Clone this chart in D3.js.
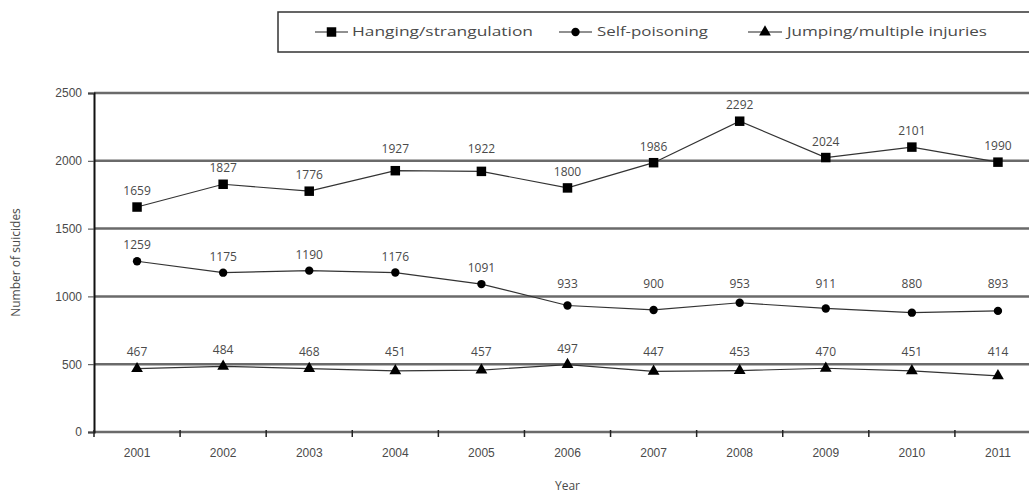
<!DOCTYPE html>
<html>
<head>
<meta charset="utf-8">
<script src="https://cdn.jsdelivr.net/npm/d3@7"></script>
<style>
  body { margin: 0; background: #fff; }
  svg { display: block; font-family: "Open Sans", "DejaVu Sans", sans-serif; }
  .lbl { fill: #4a4a4a; font-size: 12px; }
</style>
</head>
<body>
<svg id="chart" width="1029" height="495"></svg>
<script>
const years = ["2001", "2002", "2003", "2004", "2005", "2006", "2007", "2008", "2009", "2010", "2011"];
const hanging = [1659, 1827, 1776, 1927, 1922, 1800, 1986, 2292, 2024, 2101, 1990];
const poisoning = [1259, 1175, 1190, 1176, 1091, 933, 900, 953, 911, 880, 893];
const jumping = [467, 484, 468, 451, 457, 497, 447, 453, 470, 451, 414];
const seriesNames = ["Hanging/strangulation", "Self-poisoning", "Jumping/multiple injuries"];
const yTicks = [0, 500, 1000, 1500, 2000, 2500];

const svg = d3.select("#chart");
const plotLeft = 94, plotRight = 1041, plotTop = 93, plotBottom = 432;

const x = d3.scaleBand().domain(years).range([plotLeft, plotRight]);
const y = d3.scaleLinear().domain([0, 2500]).range([plotBottom, plotTop]);

// gridlines
svg.append("g").selectAll("line")
    .data(yTicks)
    .enter().append("line")
    .attr("x1", plotLeft).attr("x2", 1029)
    .attr("y1", d => y(d)).attr("y2", d => y(d))
    .attr("stroke", "#6a6a6a")
    .attr("stroke-width", 2.5);

// y axis
const yAxis = svg.append("g")
    .attr("transform", `translate(${plotLeft},0)`)
    .call(d3.axisLeft(y).tickValues(yTicks).tickSize(6).tickPadding(6).tickFormat(d3.format("d")));
yAxis.select(".domain").attr("stroke", "#111").attr("stroke-width", 2);
yAxis.selectAll(".tick line").attr("stroke", "#444");
yAxis.selectAll("text").attr("class", "lbl").attr("font-size", 11).attr("fill", "#555");

// x axis: labels at band centers, ticks at band edges
const xAxis = svg.append("g")
    .attr("transform", `translate(0,${plotBottom})`)
    .call(d3.axisBottom(x).tickSize(0).tickPadding(16));
xAxis.select(".domain").remove();
xAxis.selectAll("text").attr("class", "lbl").attr("font-size", 11).attr("fill", "#555");

svg.append("g").selectAll("line")
    .data(years)
    .enter().append("line")
    .attr("x1", d => x(d)).attr("x2", d => x(d))
    .attr("y1", plotBottom - 2).attr("y2", plotBottom + 5)
    .attr("stroke", "#222")
    .attr("stroke-width", 1.5);

// axis titles
svg.append("text")
    .attr("class", "lbl")
    .attr("transform", `translate(20,${(plotTop + plotBottom) / 2}) rotate(-90)`)
    .attr("text-anchor", "middle")
    .attr("font-size", 11.5)
    .text("Number of suicides");

svg.append("text")
    .attr("class", "lbl")
    .attr("x", x("2006") + x.bandwidth() / 2)
    .attr("y", 490)
    .attr("text-anchor", "middle")
    .attr("font-size", 11.5)
    .text("Year");

const cx = d => x(d) + x.bandwidth() / 2;
const line = d3.line().x((d, i) => cx(years[i])).y(d => y(d));

// put the value label above the marker, lifted over a gridline if it would sit on one
function labelY(v) {
    let base = y(v) - 12;
    yTicks.forEach(t => {
        const g = y(t);
        if (base > g - 8 && base - 9 < g + 1) base = g - 8;
    });
    return base;
}

const sq = d3.symbol().type(d3.symbolSquare).size(90);
const ci = d3.symbol().type(d3.symbolCircle).size(55);
const tri = d3.symbol().type(d3.symbolTriangle).size(60);
const series = [
    { values: hanging, sym: sq },
    { values: poisoning, sym: ci },
    { values: jumping, sym: tri }
];

series.forEach(s => {
    svg.append("path")
        .datum(s.values)
        .attr("d", line)
        .attr("fill", "none")
        .attr("stroke", "#333")
        .attr("stroke-width", 1.2);

    svg.append("g").selectAll("path")
        .data(s.values)
        .enter().append("path")
        .attr("d", s.sym)
        .attr("transform", (d, i) => `translate(${cx(years[i])},${y(d)})`)
        .attr("fill", "#000");

    svg.append("g").selectAll("text")
        .data(s.values)
        .enter().append("text")
        .attr("class", "lbl")
        .attr("x", (d, i) => cx(years[i]))
        .attr("y", d => labelY(d))
        .attr("text-anchor", "middle")
        .text(d => d);
});

// legend
const legend = svg.append("g");
legend.append("rect")
    .attr("x", 278).attr("y", 12)
    .attr("width", 760).attr("height", 40)
    .attr("fill", "none")
    .attr("stroke", "#333")
    .attr("stroke-width", 1.5);

const legendItems = [
    { x0: 315, x1: 348, tx: 352, tw: 181, sym: sq },
    { x0: 559, x1: 592, tx: 597, tw: 111, sym: ci },
    { x0: 748, x1: 782, tx: 787, tw: 200, sym: tri }
];
legendItems.forEach((it, i) => {
    legend.append("line")
        .attr("x1", it.x0).attr("x2", it.x1)
        .attr("y1", 32).attr("y2", 32)
        .attr("stroke", "#222").attr("stroke-width", 1.2);
    legend.append("path")
        .attr("d", it.sym)
        .attr("transform", `translate(${(it.x0 + it.x1) / 2},32)`)
        .attr("fill", "#000");
    legend.append("text")
        .attr("class", "lbl")
        .attr("x", it.tx).attr("y", 36)
        .attr("textLength", it.tw)
        .attr("lengthAdjust", "spacingAndGlyphs")
        .attr("font-size", 12)
        .text(seriesNames[i]);
});
</script>
</body>
</html>
